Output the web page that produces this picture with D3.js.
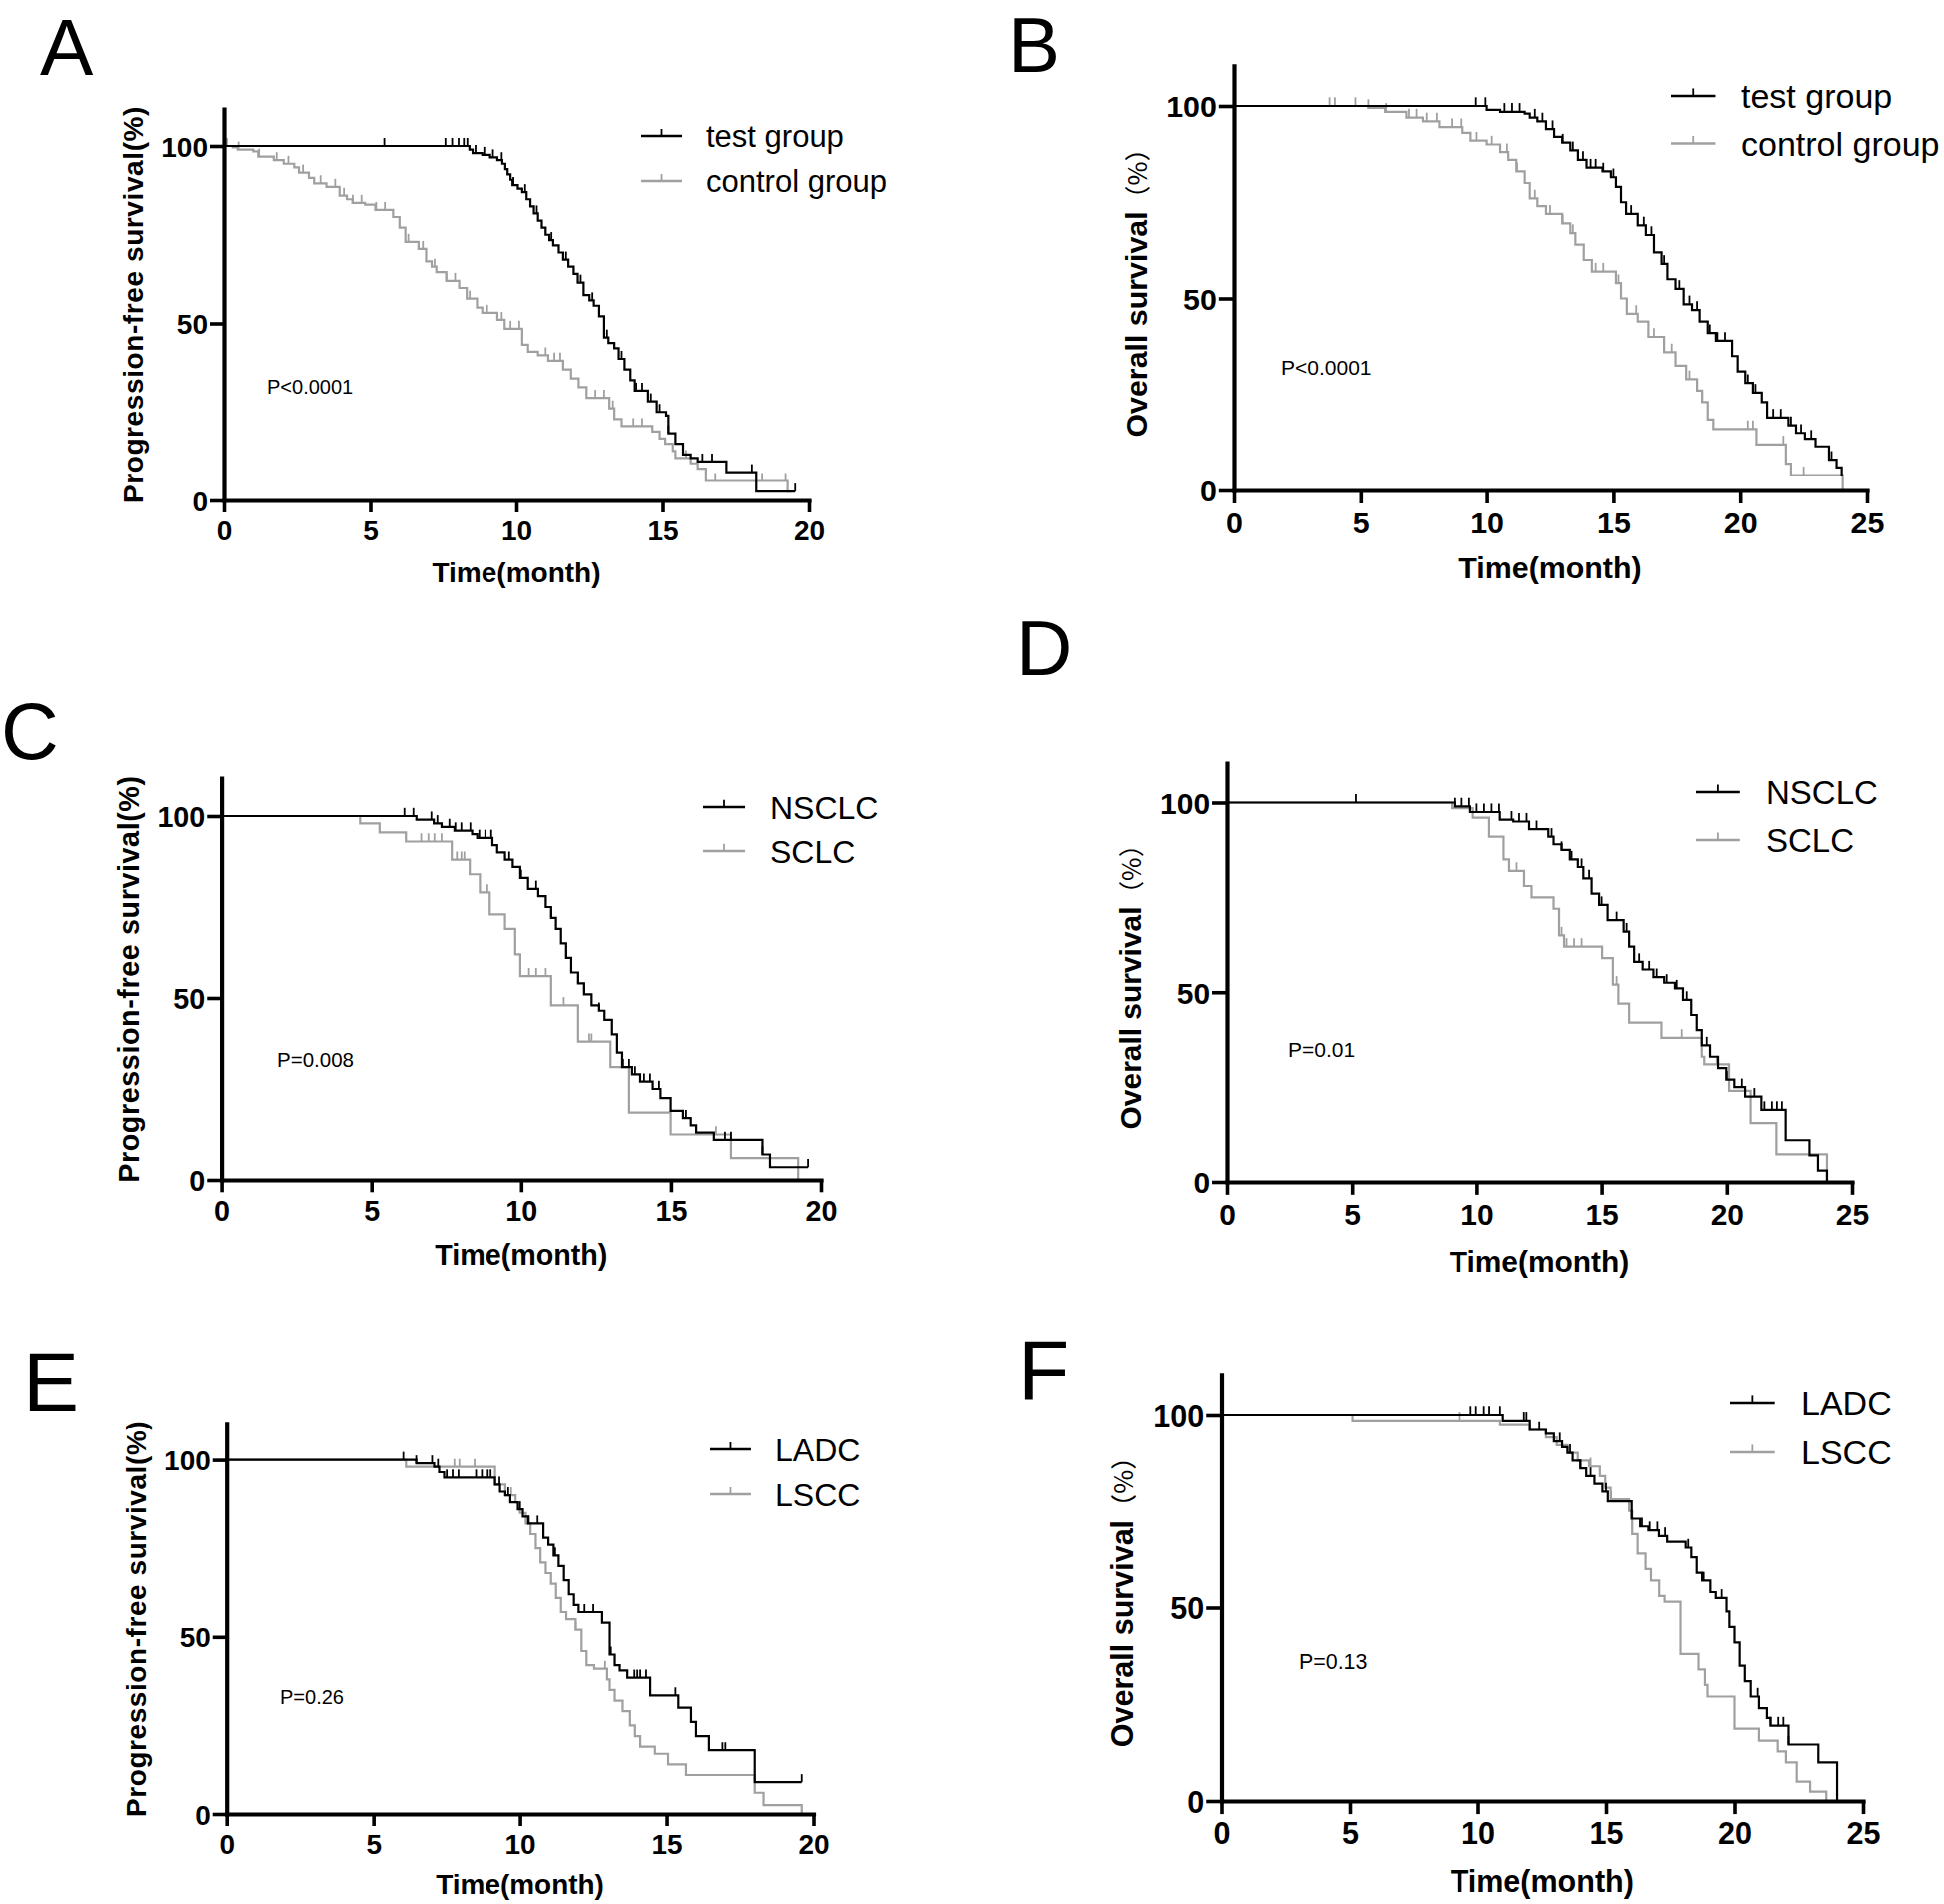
<!DOCTYPE html>
<html><head><meta charset="utf-8">
<script src="https://cdn.jsdelivr.net/npm/d3@7"></script>
<style>body{margin:0;background:#fff}</style>
</head><body>
<svg id="c" width="1946" height="1906" xmlns="http://www.w3.org/2000/svg"></svg>
<script>
// ---------------- DATA ----------------
const yTickValues = [0, 50, 100];
const xTicksPFS = [0, 5, 10, 15, 20];
const xTicksOS = [0, 5, 10, 15, 20, 25];
const panelLetters = ["A", "B", "C", "D", "E", "F"];
const pValues = ["P<0.0001", "P<0.0001", "P=0.008", "P=0.01", "P=0.26", "P=0.13"];
const seriesNamesAB = ["test group", "control group"];
const seriesNamesCD = ["NSCLC", "SCLC"];
const seriesNamesEF = ["LADC", "LSCC"];
const xTitle = "Time(month)";
const yTitlePFS = "Progression-free survival(%)";
const yTitleOS = "Overall survival";
const yTitleOSUnit = "（%）";

// Panel A: PFS test vs control  ([time, survival after drop])
const aTestSteps = [[8.39,99],[8.5,98],[8.83,97.5],[9.1,96.8],[9.35,96],[9.52,95],[9.62,93.5],[9.7,92],[9.8,90.5],[9.87,89],[10.05,88],[10.2,87],[10.35,85],[10.48,83],[10.6,81],[10.74,79],[10.87,77],[11.0,75],[11.13,73.5],[11.26,72],[11.45,70],[11.6,68],[11.78,66],[11.96,64],[12.1,61.5],[12.3,58],[12.5,56.5],[12.65,55],[12.83,52],[13.0,46],[13.15,44.5],[13.35,43],[13.5,40],[13.7,37],[13.9,34],[14.05,31],[14.5,28],[14.8,25],[15.12,24],[15.2,19],[15.44,16],[15.7,13],[15.96,12],[16.2,11],[17.18,8],[18.2,2.5]];
const aTestEnd = 19.53;
const aTestCensor = [5.48,7.57,7.8,8.02,8.2,8.32,8.6,8.9,9.2,9.5,9.9,10.3,10.7,11.2,11.7,12.2,12.6,13.1,13.6,14.1,14.3,14.6,14.9,15.2,16.36,16.69,18.05,19.53];
const aCtrlSteps = [[0.3,99.6],[0.47,99],[1.0,98.5],[1.17,97],[1.7,96],[2.04,95],[2.4,94],[2.56,92.5],[2.9,91],[3.08,89.5],[3.5,88.5],[3.95,86],[4.2,85],[4.39,84],[4.82,83.5],[5.17,82],[5.78,80],[6.0,77],[6.2,73],[6.65,71],[6.91,67.5],[7.1,66],[7.26,64.5],[7.6,62],[8.04,60],[8.3,57],[8.65,54.5],[8.83,53],[9.35,51],[9.6,48.5],[10.2,44],[10.4,42],[10.74,41],[11.09,39.5],[11.6,37],[11.87,34.5],[12.13,32],[12.4,29],[13.18,26],[13.35,23],[13.6,21],[14.65,19.5],[14.9,17.5],[15.09,16],[15.35,14],[15.44,12],[15.96,10.5],[16.2,9],[16.48,5.5],[19.27,2.5]];
const aCtrlEnd = 19.4;
const aCtrlCensor = [0.1,0.5,1.2,1.8,2.2,2.7,3.3,3.8,4.1,4.4,4.7,5.2,5.5,6.3,6.8,7.2,7.6,7.9,8.4,9.0,9.5,9.8,10.1,11.0,11.3,11.5,12.7,13.0,13.3,14.0,14.3,15.8,16.8,18.4,19.2];

// Panel B: OS test vs control
const bTestSteps = [[10.0,99],[10.53,98.5],[11.5,98],[11.7,97],[12.0,96],[12.34,94],[12.66,92],[12.98,90.5],[13.3,88.5],[13.6,86],[13.94,84],[14.57,83],[14.9,81.5],[15.1,79],[15.3,75],[15.5,72],[15.96,69],[16.28,66.5],[16.6,62],[16.9,59],[17.13,55],[17.45,52.5],[17.77,48.5],[18.1,47],[18.4,44],[18.72,41],[19.04,39],[19.68,35],[19.9,31],[20.2,28],[20.5,25.5],[20.85,23],[21.06,19],[21.9,17],[22.2,15],[22.55,13.5],[22.97,11.5],[23.5,8],[23.8,6],[24.0,4]];
const bTestEnd = 24.05;
const bTestCensor = [9.57,9.95,10.7,11.0,11.3,11.9,12.2,12.6,13.0,13.4,13.8,14.1,14.3,14.6,15.0,15.7,16.2,16.5,17.0,17.6,18.0,18.3,18.8,19.1,19.4,20.3,20.6,21.3,21.6,22.0,22.4,22.8,23.6];
const bCtrlSteps = [[5.3,99.5],[5.96,98.5],[6.8,97],[7.45,96],[8.1,94.5],[9.04,93],[9.36,91],[10.0,90],[10.53,88],[10.85,86],[11.17,83],[11.5,80],[11.7,76],[12.0,74],[12.34,72],[12.98,69.5],[13.3,67],[13.5,64],[13.83,60],[14.15,57],[15.1,54],[15.3,50],[15.53,46],[15.96,44],[16.38,40],[17.0,36],[17.45,32.5],[17.87,29],[18.3,26],[18.5,23],[18.72,18.5],[18.94,16],[20.64,12],[21.8,7],[22.0,4],[24.04,0]];
const bCtrlEnd = 24.04;
const bCtrlCensor = [3.77,3.98,4.79,5.3,6.0,6.9,7.2,7.6,8.0,8.6,9.0,9.6,10.2,10.8,11.2,11.9,12.5,13.0,13.4,14.3,14.6,15.2,15.9,16.6,17.3,18.0,18.5,20.3,20.5,21.7,22.5];

// Panel C: PFS NSCLC vs SCLC
const cNsSteps = [[6.5,99],[7.08,98],[7.34,97],[7.77,96],[8.36,95],[8.53,94],[9.04,92],[9.2,90],[9.46,88],[9.72,86],[9.97,83],[10.23,80],[10.57,78],[10.82,75],[11.0,72],[11.16,69],[11.33,65],[11.5,61],[11.67,57],[11.9,54],[12.1,51],[12.35,48],[12.6,46.5],[12.78,44],[13.03,40],[13.2,35],[13.37,31],[13.7,29],[13.97,27],[14.39,25],[14.65,22.5],[14.99,19],[15.4,17],[15.66,15],[15.84,13],[16.43,11],[18.05,7],[18.3,3.5]];
const cNsEnd = 19.57;
const cNsCensor = [6.1,6.4,7.0,7.2,7.6,7.8,8.0,8.3,8.6,8.8,9.0,9.6,10.0,10.5,11.0,11.5,11.9,12.1,12.6,13.4,13.6,13.8,14.1,14.3,14.6,15.5,16.8,17.0,18.05,19.57];
const cScSteps = [[4.62,98],[5.27,95.5],[6.15,93],[7.68,88],[8.28,84],[8.62,79],[8.95,73],[9.46,69],[9.8,62],[9.97,56],[11.0,48],[11.9,38],[12.98,31],[13.6,18.5],[14.99,12.5],[17.0,6],[19.24,0]];
const cScEnd = 19.24;
const cScCensor = [6.66,6.9,7.1,7.34,7.85,8.0,8.1,8.87,10.26,10.5,10.82,11.42,12.27,12.35,16.5,17.0];

// Panel D: OS NSCLC vs SCLC
const dNsSteps = [[9.1,99],[9.74,97.5],[10.93,95.5],[11.47,95],[12.1,93],[12.87,91],[13.08,89],[13.4,87.5],[13.73,85],[14.05,83],[14.27,80],[14.6,76],[14.9,73],[15.24,69],[15.88,66],[16.1,62],[16.3,58],[16.64,56],[17.07,54],[17.5,52.5],[17.93,51],[18.25,48],[18.58,44],[18.8,40],[19.0,36],[19.33,33],[19.65,30],[19.98,27],[20.3,25],[20.73,22.5],[21.38,19],[22.35,11],[23.3,7],[23.64,3],[24.0,0]];
const dNsEnd = 24.0;
const dNsCensor = [5.15,9.1,9.4,9.7,10.0,10.3,10.6,10.9,11.4,11.7,12.0,12.4,13.0,13.4,13.8,14.2,14.5,15.0,15.6,16.0,16.5,16.9,17.2,17.6,18.0,18.4,19.2,20.0,20.6,21.1,21.5,21.8,22.0,22.2];
const dScSteps = [[8.99,98.5],[9.85,96],[10.5,91],[11.08,85],[11.3,82],[11.9,78],[12.2,75],[13.08,72],[13.3,65],[13.5,62],[15.02,59],[15.45,52],[15.67,47],[16.1,42],[17.39,38],[19.0,33],[19.1,31],[20.09,24],[20.95,15.5],[21.98,7.3],[24.0,0]];
const dScEnd = 24.0;
const dScCensor = [11.3,11.6,13.4,13.6,13.9,14.2,15.6,18.2,19.6];

// Panel E: PFS LADC vs LSCC
const eAdSteps = [[6.46,99],[7.07,98],[7.24,96.5],[7.41,95],[9.15,93],[9.32,91],[9.5,90],[9.67,88],[9.93,86],[10.1,84],[10.28,82],[10.8,78],[10.97,76],[11.15,73],[11.32,70],[11.5,66],[11.67,62],[11.84,59],[12.0,57],[12.8,54],[13.06,45],[13.23,42],[13.4,40.5],[13.66,38.5],[14.44,33.5],[15.4,30],[15.83,26],[16.0,22],[16.44,18],[18.0,9]];
const eAdEnd = 19.6;
const eAdCensor = [6.02,6.46,7.0,7.2,7.5,7.7,7.9,8.5,8.7,8.9,9.0,9.3,9.6,10.0,10.3,10.6,11.2,12.2,12.5,13.1,13.9,14.0,14.1,14.3,15.3,16.9,17.0,19.6];
const eScSteps = [[6.11,98],[9.15,93],[9.5,90],[9.85,88],[10.0,85],[10.2,82],[10.36,79],[10.54,75],[10.7,71],[10.88,68],[11.06,65],[11.23,61],[11.4,57],[11.58,55],[11.9,52],[12.1,46],[12.27,42],[12.53,41],[12.97,38],[13.06,35],[13.23,32],[13.5,29],[13.75,25],[13.92,22],[14.1,19],[14.6,17],[15.05,14],[15.66,11],[18.0,6],[18.3,2.5],[19.6,0]];
const eScEnd = 19.6;
const eScCensor = [7.76,7.93,8.45,9.7,11.9,12.9];

// Panel F: OS LADC vs LSCC
const fAdSteps = [[10.98,98.5],[12.03,96],[12.66,95],[12.97,93],[13.29,91.5],[13.5,90],[13.7,88],[14.0,86],[14.23,84],[14.55,82],[14.86,80],[15.07,77.5],[16.0,73],[16.33,71],[16.65,70],[17.06,68.5],[17.38,67],[18.1,65.5],[18.32,63],[18.53,59],[18.74,57],[19.06,54],[19.27,52.5],[19.69,49],[19.8,45],[20.0,41],[20.2,35],[20.4,31],[20.63,27],[20.95,24],[21.26,21.5],[21.4,19.5],[22.1,14.6],[23.26,10],[23.99,0]];
const fAdEnd = 23.99;
const fAdCensor = [9.72,9.93,10.24,10.45,10.87,11.8,11.9,12.4,13.2,13.6,14.0,14.4,15.0,16.0,16.4,16.7,17.0,17.3,18.2,18.8,19.5,20.9,21.4,21.7,21.9,22.1];
const fScSteps = [[5.1,98.5],[10.87,97.5],[12.03,96],[12.66,94],[13.08,92],[13.5,90],[13.9,88],[14.34,86.5],[14.76,84],[14.97,81],[15.18,78],[15.9,75],[16.02,69],[16.23,64],[16.54,60],[16.75,57],[17.07,53],[17.28,51.5],[17.9,38],[18.6,34],[18.85,30],[18.95,27],[20.0,18.7],[20.95,15.6],[21.68,12.8],[22.0,10],[22.42,5],[22.94,2.4],[23.57,0]];
const fScEnd = 23.57;
const fScCensor = [9.3,14.4,15.2];

// ---------------- LAYOUT / STYLE ----------------
const BLACK = "#000", GRAY = "#a0a0a0";
const layout = [
  {letter:{x:40,y:75,fs:80}, xL:224, xR:810, xMax:20, y0:501, y100:146, os:false, ylabX:133,
   leg:{x:642,y:136,dy:45,tx:707,fs:31}, p:{x:267,y:387,fs:20}, xtY:573},
  {letter:{x:1009,y:72,fs:78}, xL:1235, xR:1869, xMax:25, y0:491, y100:106, os:true, ylabX:1137,
   leg:{x:1673,y:96,dy:47.5,tx:1743,fs:34}, p:{x:1282,y:367,fs:21}, xtY:568},
  {letter:{x:1,y:760,fs:80}, xL:221.6, xR:822, xMax:20, y0:1181, y100:817, os:false, ylabX:129,
   leg:{x:704,y:808,dy:44,tx:771,fs:32}, p:{x:277,y:1061,fs:20.5}, xtY:1256},
  {letter:{x:1017,y:676,fs:78}, xL:1228, xR:1854, xMax:25, y0:1183, y100:803.5, os:true, ylabX:1131,
   leg:{x:1698,y:793,dy:48,tx:1768,fs:33}, p:{x:1289,y:1050,fs:21}, xtY:1262},
  {letter:{x:23,y:1412,fs:84}, xL:226.7, xR:814.5, xMax:20, y0:1816, y100:1461.6, os:false, ylabX:136,
   leg:{x:711,y:1451,dy:45,tx:776,fs:32}, p:{x:280,y:1699,fs:20}, xtY:1886},
  {letter:{x:1019,y:1400,fs:84}, xL:1222.5, xR:1865, xMax:25, y0:1803, y100:1416, os:true, ylabX:1123,
   leg:{x:1732,y:1404,dy:50,tx:1803,fs:34}, p:{x:1300,y:1663,fs:21.4}, xtY:1883}
];

const panelSeries = [
  [{steps:aTestSteps,end:aTestEnd,censor:aTestCensor},{steps:aCtrlSteps,end:aCtrlEnd,censor:aCtrlCensor}],
  [{steps:bTestSteps,end:bTestEnd,censor:bTestCensor},{steps:bCtrlSteps,end:bCtrlEnd,censor:bCtrlCensor}],
  [{steps:cNsSteps,end:cNsEnd,censor:cNsCensor},{steps:cScSteps,end:cScEnd,censor:cScCensor}],
  [{steps:dNsSteps,end:dNsEnd,censor:dNsCensor},{steps:dScSteps,end:dScEnd,censor:dScCensor}],
  [{steps:eAdSteps,end:eAdEnd,censor:eAdCensor},{steps:eScSteps,end:eScEnd,censor:eScCensor}],
  [{steps:fAdSteps,end:fAdEnd,censor:fAdCensor},{steps:fScSteps,end:fScEnd,censor:fScCensor}]
];
const panelNames = [seriesNamesAB, seriesNamesAB, seriesNamesCD, seriesNamesCD, seriesNamesEF, seriesNamesEF];
const FONT = "'Liberation Sans', Arial, Helvetica, sans-serif";

const svg = d3.select("#c");
svg.append("rect").attr("width",1946).attr("height",1906).attr("fill","#fff");

function survAt(steps, t){
  let s = 100;
  for (const [tt, v] of steps){ if (tt <= t + 1e-9) s = v; else break; }
  return s;
}

layout.forEach((L, i) => {
  const k = (L.y0 - L.y100) / 355;
  const g = svg.append("g");
  const x = d3.scaleLinear().domain([0, L.xMax]).range([L.xL, L.xR]);
  const y = d3.scaleLinear().domain([0, 100]).range([L.y0, L.y100]);
  const yTop = y(110.4);

  // panel letter
  svg.append("text").attr("x", L.letter.x).attr("y", L.letter.y)
    .attr("font-family", FONT).attr("font-size", L.letter.fs).attr("fill","#000")
    .text(panelLetters[i]);

  // curves
  const colors = [BLACK, GRAY];
  const line = d3.line().x(d => x(d[0])).y(d => y(d[1])).curve(d3.curveStepAfter);
  [1, 0].forEach(si => {
    const S = panelSeries[i][si];
    const pts = [[0, 100]].concat(S.steps);
    const last = pts[pts.length - 1][1];
    pts.push([S.end, last]);
    g.append("path").attr("d", line(pts)).attr("fill","none")
      .attr("stroke", colors[si]).attr("stroke-width", 2.2);
    g.selectAll(null).data(S.censor).enter().append("line")
      .attr("x1", d => x(d)).attr("x2", d => x(d))
      .attr("y1", d => y(survAt(S.steps, d)))
      .attr("y2", d => y(survAt(S.steps, d)) - 8 * k)
      .attr("stroke", colors[si]).attr("stroke-width", 1.8);
  });

  // axes
  const yAxisScale = d3.scaleLinear().domain([0, 110.4]).range([L.y0, yTop]);
  const ya = g.append("g").attr("transform", `translate(${L.xL},0)`)
    .call(d3.axisLeft(yAxisScale).tickValues(yTickValues).tickSize(14 * k).tickSizeOuter(0).tickPadding(2));
  const xa = g.append("g").attr("transform", `translate(0,${L.y0})`)
    .call(d3.axisBottom(x).tickValues(L.xMax === 20 ? xTicksPFS : xTicksOS).tickSize(12 * k).tickSizeOuter(0).tickPadding(8 * k));
  [ya, xa].forEach(a => {
    a.select(".domain").attr("stroke", "#000").attr("stroke-width", 4.2).attr("stroke-linecap","square");
    a.selectAll(".tick line").attr("stroke", "#000").attr("stroke-width", 3.6);
    a.selectAll(".tick text").attr("font-family", FONT).attr("font-weight", "bold")
      .attr("font-size", 28 * k).attr("fill", "#000");
  });
  ya.selectAll(".tick text").attr("dy", "0.36em");

  // x title
  svg.append("text").attr("x", (L.xL + L.xR) / 2).attr("y", L.xtY).attr("dy","0.36em")
    .attr("text-anchor","middle").attr("font-family", FONT).attr("font-weight","bold")
    .attr("font-size", 28 * k).text(xTitle);

  // y title
  const cy = (L.y0 + yTop) / 2 + (L.os ? 8 : 0);
  const yt = svg.append("text").attr("transform", `translate(${L.ylabX},${cy}) rotate(-90)`)
    .attr("text-anchor","middle").attr("dy","0.36em")
    .attr("font-family", FONT).attr("font-weight","bold").attr("font-size", 28 * k);
  if (L.os) {
    yt.append("tspan").text(yTitleOS);
    yt.append("tspan").attr("font-family","'Noto Sans CJK SC', sans-serif").attr("font-weight","normal")
      .attr("font-size", 24 * k).text(yTitleOSUnit);
  } else {
    yt.attr("letter-spacing", 0.6).text(yTitlePFS);
  }

  // legend
  panelNames[i].forEach((nm, si) => {
    const ly = L.leg.y + si * L.leg.dy;
    const len = 41 * k;
    svg.append("line").attr("x1", L.leg.x).attr("x2", L.leg.x + len).attr("y1", ly).attr("y2", ly)
      .attr("stroke", colors[si]).attr("stroke-width", 2.4);
    svg.append("line").attr("x1", L.leg.x + len/2).attr("x2", L.leg.x + len/2).attr("y1", ly).attr("y2", ly - 7 * k)
      .attr("stroke", colors[si]).attr("stroke-width", 1.8);
    svg.append("text").attr("x", L.leg.tx).attr("y", ly).attr("dy","0.36em")
      .attr("font-family", FONT).attr("font-size", L.leg.fs).attr("fill","#000").text(nm);
  });

  // p value
  svg.append("text").attr("x", L.p.x).attr("y", L.p.y).attr("dy","0.36em")
    .attr("font-family", FONT).attr("font-size", L.p.fs).attr("fill","#000").text(pValues[i]);
});
</script>
</body></html>
